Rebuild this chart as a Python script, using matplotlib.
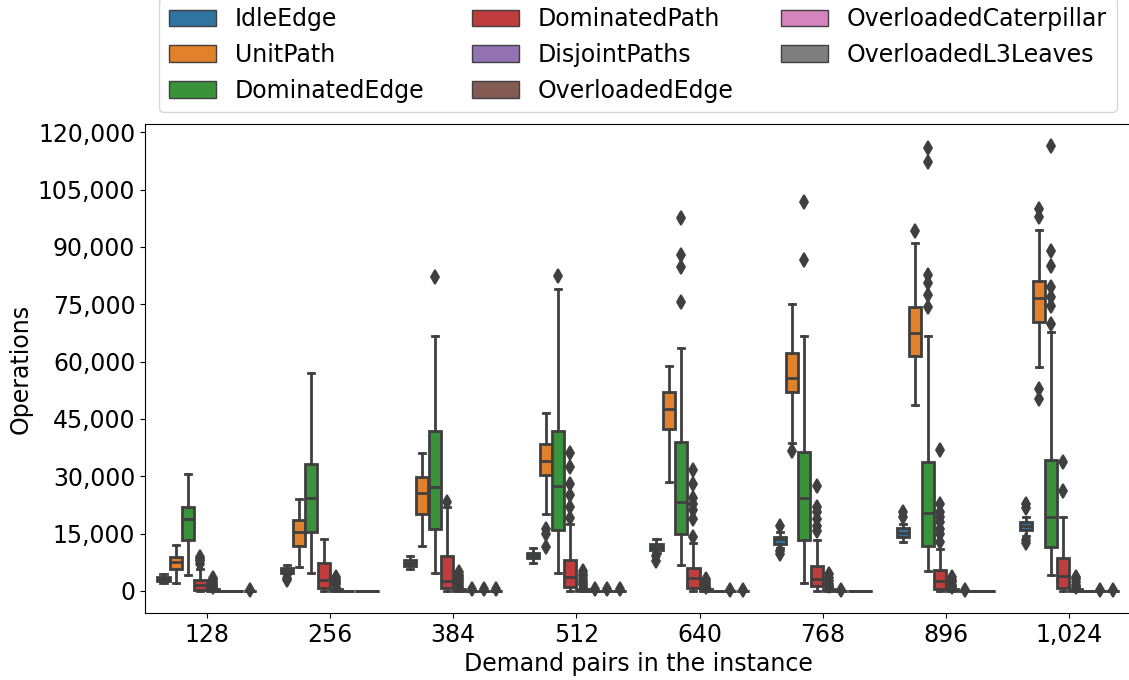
import matplotlib
matplotlib.use("Agg")
import matplotlib.pyplot as plt
import matplotlib.patches as mpatches
from matplotlib.ticker import FuncFormatter
import numpy as np

groups = ["128", "256", "384", "512", "640", "768", "896", "1,024"]
series = ["IdleEdge", "UnitPath", "DominatedEdge", "DominatedPath", "DisjointPaths",
          "OverloadedEdge", "OverloadedCaterpillar", "OverloadedL3Leaves"]
colors = ["#3274a1", "#e1812c", "#3a923a", "#c03d3e", "#9372b2", "#845b53", "#d684bd", "#7f7f7f"]

# IdleEdge
idle_med = [3000, 5300, 7380, 9210, 11560, 13570, 15210, 17040]
idle_q1 = [2500, 4700, 6600, 8530, 10620, 12260, 14090, 15990]
idle_q3 = [3600, 5920, 8170, 9910, 12180, 14170, 16430, 17920]
idle_lo = [2100, 4300, 5740, 7230, 9800, 11220, 12700, 14270]
idle_hi = [4300, 6780, 9050, 11220, 13490, 15310, 17480, 19380]
idle_fl = [[], [2800, 3300], [], [], [9100, 7900], [17000, 10300, 9700],
           [20500, 19300], [22800, 21600, 13200, 12500]]

# UnitPath
unit_med = [7565, 15470, 25650, 33990, 47480, 55740, 67480, 76610]
unit_q1 = [5740, 11820, 20090, 30260, 42340, 52090, 61570, 70260]
unit_q3 = [8790, 18520, 29820, 38530, 52100, 62170, 74170, 80950]
unit_lo = [2090, 6340, 11660, 20010, 28510, 38610, 48700, 58520]
unit_hi = [12080, 24000, 36080, 46430, 58700, 75130, 90970, 94430]
unit_fl = [[], [], [], [16200, 15000, 11600], [], [36600], [94260],
           [99800, 97800, 52700, 50100]]

# DominatedEdge
dedge_med = [18700, 24180, 27210, 27390, 23300, 24180, 20270, 19380]
dedge_q1 = [13230, 15470, 16170, 15990, 14870, 13300, 11660, 11560]
dedge_q3 = [21990, 33130, 41740, 41740, 39050, 36340, 33830, 34170]
dedge_lo = [4170, 4700, 4620, 4620, 6780, 2090, 5140, 4250]
dedge_hi = [30700, 56870, 66780, 79040, 63570, 66780, 66780, 67750]
dedge_fl = [[], [], [81990], [82260], [97480, 87910, 84610, 75470], [101820, 86610],
            [116000, 112090, 82520, 80530, 77480, 74170],
            [116350, 88960, 84870, 79390, 76780, 74430, 69830]]

# DominatedPath
dpath_med = [1565, 2790, 2690, 3570, 3310, 3130, 2690, 3830]
dpath_q1 = [340, 780, 700, 960, 700, 1390, 520, 700]
dpath_q3 = [2950, 7220, 9210, 8090, 5920, 6440, 5480, 8610]
dpath_lo = [0, 0, 0, 0, 0, 0, 0, 0]
dpath_hi = [5800, 13490, 21910, 17480, 12520, 13300, 11000, 19380]
dpath_fl = [[7000, 7700, 8300, 8800], [], [23130],
            [36000, 32530, 27910, 25130, 21830, 18960],
            [31570, 27910, 24180, 22700, 21130, 18780, 14170],
            [27470, 21830, 20530, 18780, 17040, 15730],
            [36860, 22700, 20530, 19230, 17920, 16170, 14870, 12700],
            [33830, 26000]]

# DisjointPaths
disj_med = [100, 100, 100, 100, 100, 100, 100, 100]
disj_q1 = [0, 0, 0, 0, 0, 0, 0, 0]
disj_q3 = [400, 400, 400, 400, 400, 400, 400, 400]
disj_lo = [0, 0, 0, 0, 0, 0, 0, 0]
disj_hi = [900, 900, 900, 900, 900, 900, 900, 900]
disj_fl = [[1000, 1400, 1800, 2300, 2800, 3300], [1700, 2100, 2600, 3000, 3500],
           [1500, 2000, 2500, 3000, 3600, 4200, 4900],
           [1500, 2000, 2600, 3200, 3800, 4500, 5300],
           [1000, 1500, 2000, 2600, 3200], [1200, 1800, 2500, 3300, 4400],
           [1000, 1600, 2200, 2900, 3500], [1000, 1600, 2300, 3000, 3700]]

# Overloaded series: all zero apart from a few outliers
zeros = [0, 0, 0, 0, 0, 0, 0, 0]
oedge_fl = [[], [], [350], [350], [], [300], [300], []]
ocat_fl = [[], [], [350], [350], [300], [], [], [200]]
ol3_fl = [[250], [], [350], [350], [300], [], [], [200]]

table = [
    (idle_med, idle_q1, idle_q3, idle_lo, idle_hi, idle_fl),
    (unit_med, unit_q1, unit_q3, unit_lo, unit_hi, unit_fl),
    (dedge_med, dedge_q1, dedge_q3, dedge_lo, dedge_hi, dedge_fl),
    (dpath_med, dpath_q1, dpath_q3, dpath_lo, dpath_hi, dpath_fl),
    (disj_med, disj_q1, disj_q3, disj_lo, disj_hi, disj_fl),
    (zeros, zeros, zeros, zeros, zeros, oedge_fl),
    (zeros, zeros, zeros, zeros, zeros, ocat_fl),
    (zeros, zeros, zeros, zeros, zeros, ol3_fl),
]

plt.rcParams['font.family'] = ['DejaVu Sans']
FS = 17
gray = "#3f3f3f"
lw = 2.0

fig = plt.figure(figsize=(11.29, 6.80), dpi=100)
ax = fig.add_axes([145 / 1129, 1 - 613 / 680, (1131 - 145) / 1129, (613 - 124) / 680])

n = len(series)
width = 0.8
each = width / n
offsets = np.linspace(0, width - each, n)
offsets -= offsets.mean()
gpos = np.arange(len(groups))

for i, (med, q1, q3, lo, hi, fl) in enumerate(table):
    stats = []
    for g in range(len(groups)):
        stats.append(dict(med=med[g], q1=q1[g], q3=q3[g], whislo=lo[g], whishi=hi[g],
                          fliers=fl[g]))
    ax.bxp(stats, positions=gpos + offsets[i], widths=each * 0.98, patch_artist=True,
           manage_ticks=False,
           boxprops=dict(facecolor=colors[i], edgecolor=gray, linewidth=lw),
           medianprops=dict(color=gray, linewidth=lw),
           whiskerprops=dict(color=gray, linewidth=lw),
           capprops=dict(color=gray, linewidth=lw),
           flierprops=dict(marker='d', markerfacecolor=gray, markeredgecolor=gray,
                           markersize=7, markeredgewidth=1.3, linestyle='none'))

ax.set_xlim(-0.5, 7.5)
ax.set_ylim(-5800, 122150)
ax.set_xticks(gpos)
ax.set_xticklabels(groups, fontsize=FS)
ax.set_yticks(np.arange(0, 120001, 15000))
ax.yaxis.set_major_formatter(FuncFormatter(lambda v, p: f"{v:,.0f}"))
ax.tick_params(axis='y', labelsize=FS)
ax.set_xlabel("Demand pairs in the instance", fontsize=FS)
ax.set_ylabel("Operations", fontsize=FS)

handles = [mpatches.Patch(facecolor=c, edgecolor=gray, linewidth=1.0, label=s)
           for c, s in zip(colors, series)]
ax.legend(handles=handles, loc='lower center', bbox_to_anchor=(0.5, 1.0), ncol=3,
          fontsize=FS)

fig.savefig("out.png", dpi=100)
